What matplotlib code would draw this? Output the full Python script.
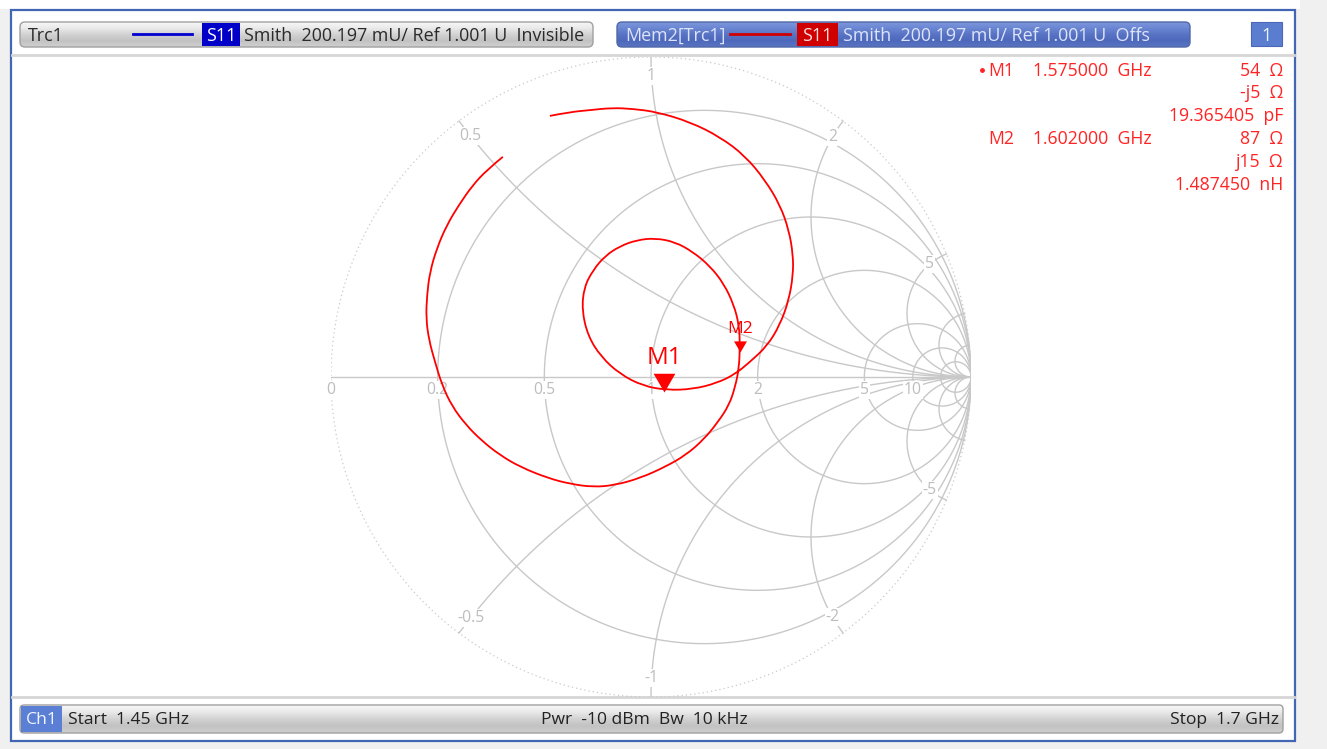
import numpy as np
import matplotlib
matplotlib.use("Agg")
import matplotlib.pyplot as plt
from matplotlib.patches import FancyBboxPatch, Rectangle, PathPatch
from matplotlib.path import Path
from matplotlib.colors import LinearSegmentedColormap

plt.rcParams['font.family'] = ['Open Sans', 'DejaVu Sans']

# ---------------- data ----------------
# reflection coefficient of the memory trace, 1.45 GHz -> 1.7 GHz
gamma_re = [-0.316, -0.253, -0.191, -0.122, -0.056, 0.019, 0.122, 0.216, 0.294, 0.356,
            0.403, 0.431, 0.444, 0.444, 0.431, 0.403, 0.363, 0.309, 0.263, 0.206,
            0.131, 0.050, -0.025, -0.097, -0.156, -0.197, -0.216, -0.209, -0.181, -0.144,
            -0.097, -0.044, 0.013, 0.075, 0.131, 0.184, 0.228, 0.259, 0.275, 0.278,
            0.275, 0.263, 0.244, 0.209, 0.166, 0.109, 0.044, -0.034, -0.113, -0.181,
            -0.253, -0.322, -0.409, -0.472, -0.528, -0.578, -0.622, -0.653, -0.675, -0.694,
            -0.703, -0.700, -0.691, -0.669, -0.638, -0.600, -0.559, -0.513, -0.463]
gamma_im = [0.816, 0.828, 0.834, 0.841, 0.838, 0.828, 0.797, 0.750, 0.691, 0.616,
            0.538, 0.459, 0.381, 0.319, 0.241, 0.163, 0.097, 0.047, 0.009, -0.019,
            -0.038, -0.041, -0.028, 0.009, 0.063, 0.128, 0.209, 0.281, 0.334, 0.378,
            0.409, 0.428, 0.434, 0.422, 0.391, 0.347, 0.291, 0.225, 0.163, 0.100,
            0.028, -0.031, -0.088, -0.141, -0.194, -0.244, -0.281, -0.316, -0.338, -0.344,
            -0.334, -0.316, -0.281, -0.244, -0.200, -0.150, -0.091, -0.025, 0.047, 0.116,
            0.184, 0.256, 0.328, 0.403, 0.475, 0.538, 0.597, 0.647, 0.688]

z0_ohm = 50.0
marker_names = ["M1", "M2"]
marker_z_ohm = [54 - 5j, 87 + 15j]

res_circles = [0.2, 0.5, 1, 2, 5, 10]
res_fine = [20]
res_labels = ["0", "0.2", "0.5", "1", "2", "5", "10"]
res_label_vals = [0, 0.2, 0.5, 1, 2, 5, 10]
react_arcs = [0.5, 1, 2, 5, -0.5, -1, -2, -5]
react_fine = [10, 20, -10, -20]
react_labels = ["0.5", "1", "2", "5", "-0.5", "-1", "-2", "-5"]

readout_name = ["M1", "", "", "M2", "", ""]
readout_freq = ["1.575000  GHz", "", "", "1.602000  GHz", "", ""]
readout_val = ["54  Ω", "-j5  Ω", "19.365405  pF", "87  Ω", "j15  Ω", "1.487450  nH"]

# ---------------- figure ----------------
W, H = 1327, 749
fig = plt.figure(figsize=(W / 100, H / 100), dpi=100)
fig.patch.set_facecolor('#f0f0f0')

bg = fig.add_axes([0, 0, 1, 1])
bg.set_xlim(0, W)
bg.set_ylim(H, 0)
bg.axis('off')

# white frame with blue border
bg.add_patch(Rectangle((0, 0), 1300, 9, facecolor='white', edgecolor='none', zorder=0))
bg.add_patch(Rectangle((11, 10), 1284, 731, facecolor='white', edgecolor='#4266b4', lw=1.6, zorder=1))
# separator lines
bg.plot([12, 1294], [55, 55], color='#d6d6d6', lw=2, zorder=1.5)
bg.plot([12, 1294], [697, 697], color='#d6d6d6', lw=2, zorder=1.5)


def grad_bar(x0, y0, x1, y1, stops, rounding=5, edge='#a0a0a0'):
    patch = FancyBboxPatch((x0, y0), x1 - x0, y1 - y0,
                           boxstyle=f"round,pad=0,rounding_size={rounding}",
                           facecolor='none', edgecolor=edge, lw=1.0, zorder=3)
    bg.add_patch(patch)
    cmap = LinearSegmentedColormap.from_list('g', stops)
    g = np.linspace(0, 1, 64).reshape(-1, 1)
    im = bg.imshow(g, cmap=cmap, extent=(x0, x1, y1, y0), aspect='auto',
                   origin='upper', zorder=2, interpolation='bilinear')
    im.set_clip_path(patch)


gray_stops = ['#f7f7f7', '#e9e9e9', '#d2d2d2', '#c2c2c2', '#cfcfcf']
blue_stops = ['#7d97dc', '#6a86d2', '#5873c4', '#4e69bb', '#5a74c2']
hdr_fs = 12.9
hy = 36

# Trc1 bar
grad_bar(20, 22, 593, 47, gray_stops)
bg.text(28, hy, "Trc1", va='center', ha='left', fontsize=hdr_fs, color='#2a2a2a', zorder=5)
bg.plot([133, 192], [34, 34], color='#0000d0', lw=2, zorder=5)
bg.add_patch(Rectangle((202, 23), 38, 23, facecolor='#0000c8', edgecolor='none', zorder=4))
bg.text(221, hy, "S11", va='center', ha='center', fontsize=hdr_fs, color='white', zorder=5)
bg.text(244, hy, "Smith  200.197 mU/ Ref 1.001 U  Invisible", va='center', ha='left',
        fontsize=hdr_fs, color='#2a2a2a', zorder=5)

# Mem2 bar
grad_bar(617, 22, 1190, 47, blue_stops, edge='#5068a8')
bg.text(625, hy, "Mem2[Trc1]", va='center', ha='left', fontsize=hdr_fs, color='#dde4fa', zorder=5)
bg.plot([730, 790], [34, 34], color='#d00000', lw=2, zorder=5)
bg.add_patch(Rectangle((797, 23), 41, 23, facecolor='#d00000', edgecolor='none', zorder=4))
bg.text(817.5, hy, "S11", va='center', ha='center', fontsize=hdr_fs, color='#f4dede', zorder=5)
bg.text(843, hy, "Smith  200.197 mU/ Ref 1.001 U  Offs", va='center', ha='left',
        fontsize=hdr_fs, color='#dde4fa', zorder=5)

# channel number box
bg.add_patch(Rectangle((1251, 22), 31, 24, facecolor='#5b7dd0', edgecolor='#4a68b8', lw=0.8, zorder=4))
bg.text(1266.5, hy, "1", va='center', ha='center', fontsize=hdr_fs, color='#eef2ff', zorder=5)

# bottom bar
bot_fs = 12.6
grad_bar(20, 705, 1283, 733, gray_stops, rounding=4)
bg.add_patch(Rectangle((21, 706), 41, 26, facecolor='#5b7fd4', edgecolor='none', zorder=4))
bg.text(41.5, 720, "Ch1", va='center', ha='center', fontsize=bot_fs, color='#f0f4ff', zorder=5)
bg.text(68, 720, "Start  1.45 GHz", va='center', ha='left', fontsize=bot_fs, color='#222222', zorder=5)
bg.text(541, 720, "Pwr  -10 dBm  Bw  10 kHz", va='center', ha='left', fontsize=bot_fs,
        color='#222222', zorder=5)
bg.text(1279, 720, "Stop  1.7 GHz", va='center', ha='right', fontsize=bot_fs, color='#222222', zorder=5)

# marker readout
red_txt = '#ff2424'
ro_fs = 12.7
row_y = [71, 93, 116, 139, 162, 185]
for i, y in enumerate(row_y):
    if readout_name[i]:
        bg.text(1014, y, readout_name[i], va='center', ha='right', fontsize=ro_fs, color=red_txt, zorder=5)
    if readout_freq[i]:
        bg.text(1033, y, readout_freq[i], va='center', ha='left', fontsize=ro_fs, color=red_txt, zorder=5)
    bg.text(1283, y, readout_val[i], va='center', ha='right', fontsize=ro_fs, color=red_txt, zorder=5)
bg.plot([982], [70], marker='o', ms=2.5, color=red_txt, zorder=5)

# ---------------- Smith chart ----------------
cx, cy, R = 651, 377, 320
ax = fig.add_axes([(cx - R) / W, (H - cy - R) / H, 2 * R / W, 2 * R / H])
ax.set_xlim(-1, 1)
ax.set_ylim(-1, 1)
ax.axis('off')

grid_c = '#c8c8c8'
lab_c = '#bdbdbd'
t = np.linspace(0, 2 * np.pi, 1000)

# outer dotted circle
ax.plot(np.cos(t), np.sin(t), color='#cacaca', lw=0.9, ls=(0, (1, 2.4)), zorder=1)
# real axis
ax.plot([-1, 1], [0, 0], color=grid_c, lw=1.0, zorder=1)

# resistance circles
for r in res_circles + res_fine:
    c, rad = r / (1 + r), 1 / (1 + r)
    ax.plot(c + rad * np.cos(t), rad * np.sin(t), color=grid_c, lw=1.0, zorder=1)

# reactance arcs
u = np.linspace(0, np.pi / 2 - 1e-4, 3000)
rr = np.tan(u)
for xv in react_arcs + react_fine:
    z = rr + 1j * xv
    g = (z - 1) / (z + 1)
    ax.plot(g.real, g.imag, color=grid_c, lw=1.0, zorder=1)

lbl_box = dict(facecolor='white', edgecolor='none', pad=0.6)
# resistance labels
for lab, r in zip(res_labels, res_label_vals):
    gx = (r - 1) / (r + 1)
    ax.text(gx, -0.041, lab, ha='center', va='center', fontsize=11.3, color=lab_c,
            bbox=lbl_box, zorder=2)

# reactance labels (placed along each arc just inside the rim)
rr2 = np.linspace(0, 2, 20000)
for lab, xv in zip(react_labels, react_arcs):
    g = (rr2 + 1j * xv - 1) / (rr2 + 1j * xv + 1)
    k = np.argmin(np.abs(np.abs(g) - 0.94))
    ax.text(g[k].real, g[k].imag, lab, ha='center', va='center', fontsize=11.3,
            color=lab_c, bbox=lbl_box, zorder=2)

# memory trace, drawn as a smooth quadratic path through the read points
pts = np.column_stack([gamma_re, gamma_im])
verts = [pts[0]]
codes = [Path.MOVETO]
for i in range(1, len(pts) - 1):
    end = pts[i + 1] if i == len(pts) - 2 else (pts[i] + pts[i + 1]) / 2
    verts += [pts[i], end]
    codes += [Path.CURVE3, Path.CURVE3]
ax.add_patch(PathPatch(Path(verts, codes), facecolor='none', edgecolor='#ff0000',
                       lw=1.3, zorder=4, joinstyle='round', capstyle='butt'))

# markers
tri = Path([(0, 0), (-0.58, 1), (0.58, 1), (0, 0)],
           [Path.MOVETO, Path.LINETO, Path.LINETO, Path.CLOSEPOLY])
msizes = [27, 16]
fsizes = [17.5, 12.5]
offs = [24.5, 16.5]
for name, zm, ms, fs, off in zip(marker_names, marker_z_ohm, msizes, fsizes, offs):
    zn = zm / z0_ohm
    gm = (zn - 1) / (zn + 1)
    ax.plot([gm.real], [gm.imag], marker=tri, ms=ms, color='#ff0000', mec='#ff0000',
            mew=0, zorder=5, clip_on=False)
    ax.annotate(name, xy=(gm.real, gm.imag), xytext=(0, off), textcoords='offset points',
                ha='center', va='center', fontsize=fs, color='#ff0000', zorder=6)

fig.savefig('out.png', dpi=100, facecolor=fig.get_facecolor())
